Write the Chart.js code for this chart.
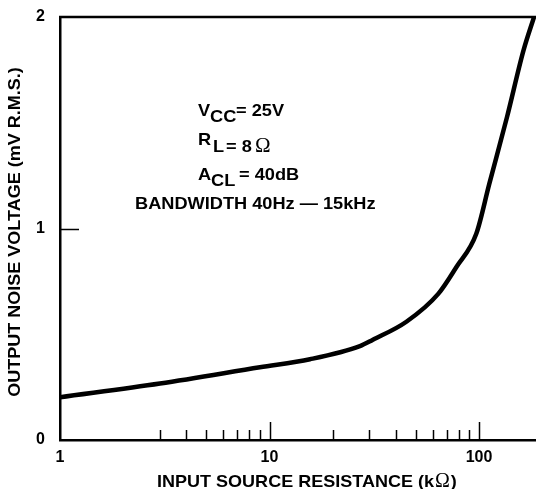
<!DOCTYPE html>
<html>
<head>
<meta charset="utf-8">
<script src="https://cdn.jsdelivr.net/npm/chart.js@4/dist/chart.umd.min.js"></script>
<style>
  html, body { margin: 0; padding: 0; background: #fff; }
  #wrap { width: 536px; height: 489px; position: relative; }
</style>
</head>
<body>
<div id="wrap"><canvas id="noiseChart"></canvas></div>
<script>
// source resistance (kOhm) and output noise (mV rms)
const resistance = [1, 3, 9, 15.6, 27, 31, 45, 64, 78, 97, 112, 136, 163, 183];
const noiseVoltage = [0.202, 0.267, 0.344, 0.382, 0.444, 0.473, 0.559, 0.692, 0.818, 0.975, 1.212, 1.527, 1.842, 2.0];

const xLabels = [1, 10, 100];
const yLabels = [0, 1, 2];
const xMinorTicks = [3, 4, 5, 6, 7, 8, 9, 20, 30, 40, 50, 60, 70, 80, 90];
const xMajorTicks = [10, 100];
const yInnerTicks = [1];

const bold = (size) => 'bold ' + size + 'px "Liberation Sans", Arial, sans-serif';
const omegaFont = (size) => size + 'px "Liberation Serif", "DejaVu Serif", serif';

// draw text a little wider than the font, like the old typeset lettering
const wide = (ctx, str, x, y, sx) => {
    ctx.save();
    ctx.translate(x, y);
    ctx.scale(sx, 1);
    ctx.fillText(str, 0, 0);
    ctx.restore();
    return ctx.measureText(str).width * sx;
};

const decorations = {
    id: 'decorations',
    afterDraw(chart) {
        const { ctx, chartArea: area, scales: { x, y } } = chart;
        ctx.save();
        ctx.strokeStyle = '#000';
        ctx.fillStyle = '#000';

        // top frame line
        ctx.lineWidth = 2.5;
        ctx.beginPath();
        ctx.moveTo(area.left - 1, area.top);
        ctx.lineTo(area.right, area.top);
        ctx.stroke();

        // inward tick marks
        ctx.lineWidth = 1.5;
        const tick = (v, len) => {
            const px = Math.round(x.getPixelForValue(v)) + 0.5;
            ctx.beginPath();
            ctx.moveTo(px, area.bottom);
            ctx.lineTo(px, area.bottom - len);
            ctx.stroke();
        };
        xMinorTicks.forEach(v => tick(v, 10));
        xMajorTicks.forEach(v => tick(v, 18));
        yInnerTicks.forEach(v => {
            const py = Math.round(y.getPixelForValue(v)) + 0.5;
            ctx.beginPath();
            ctx.moveTo(area.left, py);
            ctx.lineTo(area.left + 19, py);
            ctx.stroke();
        });

        // conditions text
        ctx.textAlign = 'left';
        ctx.textBaseline = 'alphabetic';
        const sx = 1.07;
        ctx.font = bold(17);
        wide(ctx, 'V', 198, 116, sx);
        wide(ctx, 'CC', 210, 122, sx);
        wide(ctx, '= 25V', 236, 116, sx);

        wide(ctx, 'R', 198, 145, sx);
        wide(ctx, 'L', 213, 152, sx);
        wide(ctx, '= 8', 226, 152, sx);
        ctx.font = omegaFont(21);
        ctx.fillText('\u03A9', 255, 152);

        ctx.font = bold(17);
        wide(ctx, 'A', 198, 180, sx);
        wide(ctx, 'CL', 211, 186, sx);
        wide(ctx, '= 40dB', 239, 180, sx);

        wide(ctx, 'BANDWIDTH 40Hz \u2014 15kHz', 135, 209, sx);

        // x axis title
        let tx = 157;
        ctx.font = bold(17);
        tx += wide(ctx, 'INPUT SOURCE RESISTANCE (k', tx, 487, 1.06);
        ctx.font = omegaFont(20);
        ctx.fillText('\u03A9', tx + 1, 487);
        tx += ctx.measureText('\u03A9').width + 2;
        ctx.font = bold(17);
        wide(ctx, ')', tx, 487, 1.06);

        // y axis title
        ctx.translate(20, 232);
        ctx.rotate(-Math.PI / 2);
        ctx.font = bold(17);
        const yTitle = 'OUTPUT NOISE VOLTAGE (mV R.M.S.)';
        const w = ctx.measureText(yTitle).width * 1.06;
        wide(ctx, yTitle, -w / 2, 0, 1.06);
        ctx.restore();
    }
};

const ctx = document.getElementById('noiseChart');

new Chart(ctx, {
    type: 'line',
    data: {
        datasets: [{
            data: resistance.map((r, i) => ({ x: r, y: noiseVoltage[i] })),
            borderColor: '#000',
            borderWidth: 4.5,
            pointRadius: 0,
            fill: false,
            cubicInterpolationMode: 'monotone'
        }]
    },
    options: {
        responsive: true,
        maintainAspectRatio: false,
        animation: false,
        devicePixelRatio: 1,
        layout: { padding: { top: 17, right: 0, bottom: 0, left: 0 } },
        plugins: {
            legend: { display: false },
            tooltip: { enabled: false }
        },
        scales: {
            x: {
                type: 'logarithmic',
                min: 1,
                max: 187,
                grid: { display: false, drawTicks: false },
                border: { display: true, color: '#000', width: 2.5 },
                ticks: {
                    color: '#000',
                    font: { family: '"Liberation Sans", Arial, sans-serif', size: 16, weight: 'bold' },
                    padding: 8,
                    autoSkip: false,
                    maxRotation: 0,
                    callback: (v) => String(v)
                },
                afterBuildTicks: (scale) => { scale.ticks = xLabels.map(v => ({ value: v })); },
                afterFit: (scale) => {
                    scale.height = 49;
                    scale.paddingLeft = 0;
                    scale.paddingRight = 0;
                }
            },
            y: {
                min: 0,
                max: 2,
                grid: { display: false, drawTicks: false },
                border: { display: true, color: '#000', width: 2.5 },
                ticks: {
                    color: '#000',
                    font: { family: '"Liberation Sans", Arial, sans-serif', size: 16, weight: 'bold' },
                    padding: 15,
                    callback: (v) => String(v)
                },
                afterBuildTicks: (scale) => { scale.ticks = yLabels.map(v => ({ value: v })); },
                afterFit: (scale) => {
                    scale.width = 60;
                    scale.paddingTop = 0;
                    scale.paddingBottom = 0;
                }
            }
        }
    },
    plugins: [decorations]
});
</script>
</body>
</html>
